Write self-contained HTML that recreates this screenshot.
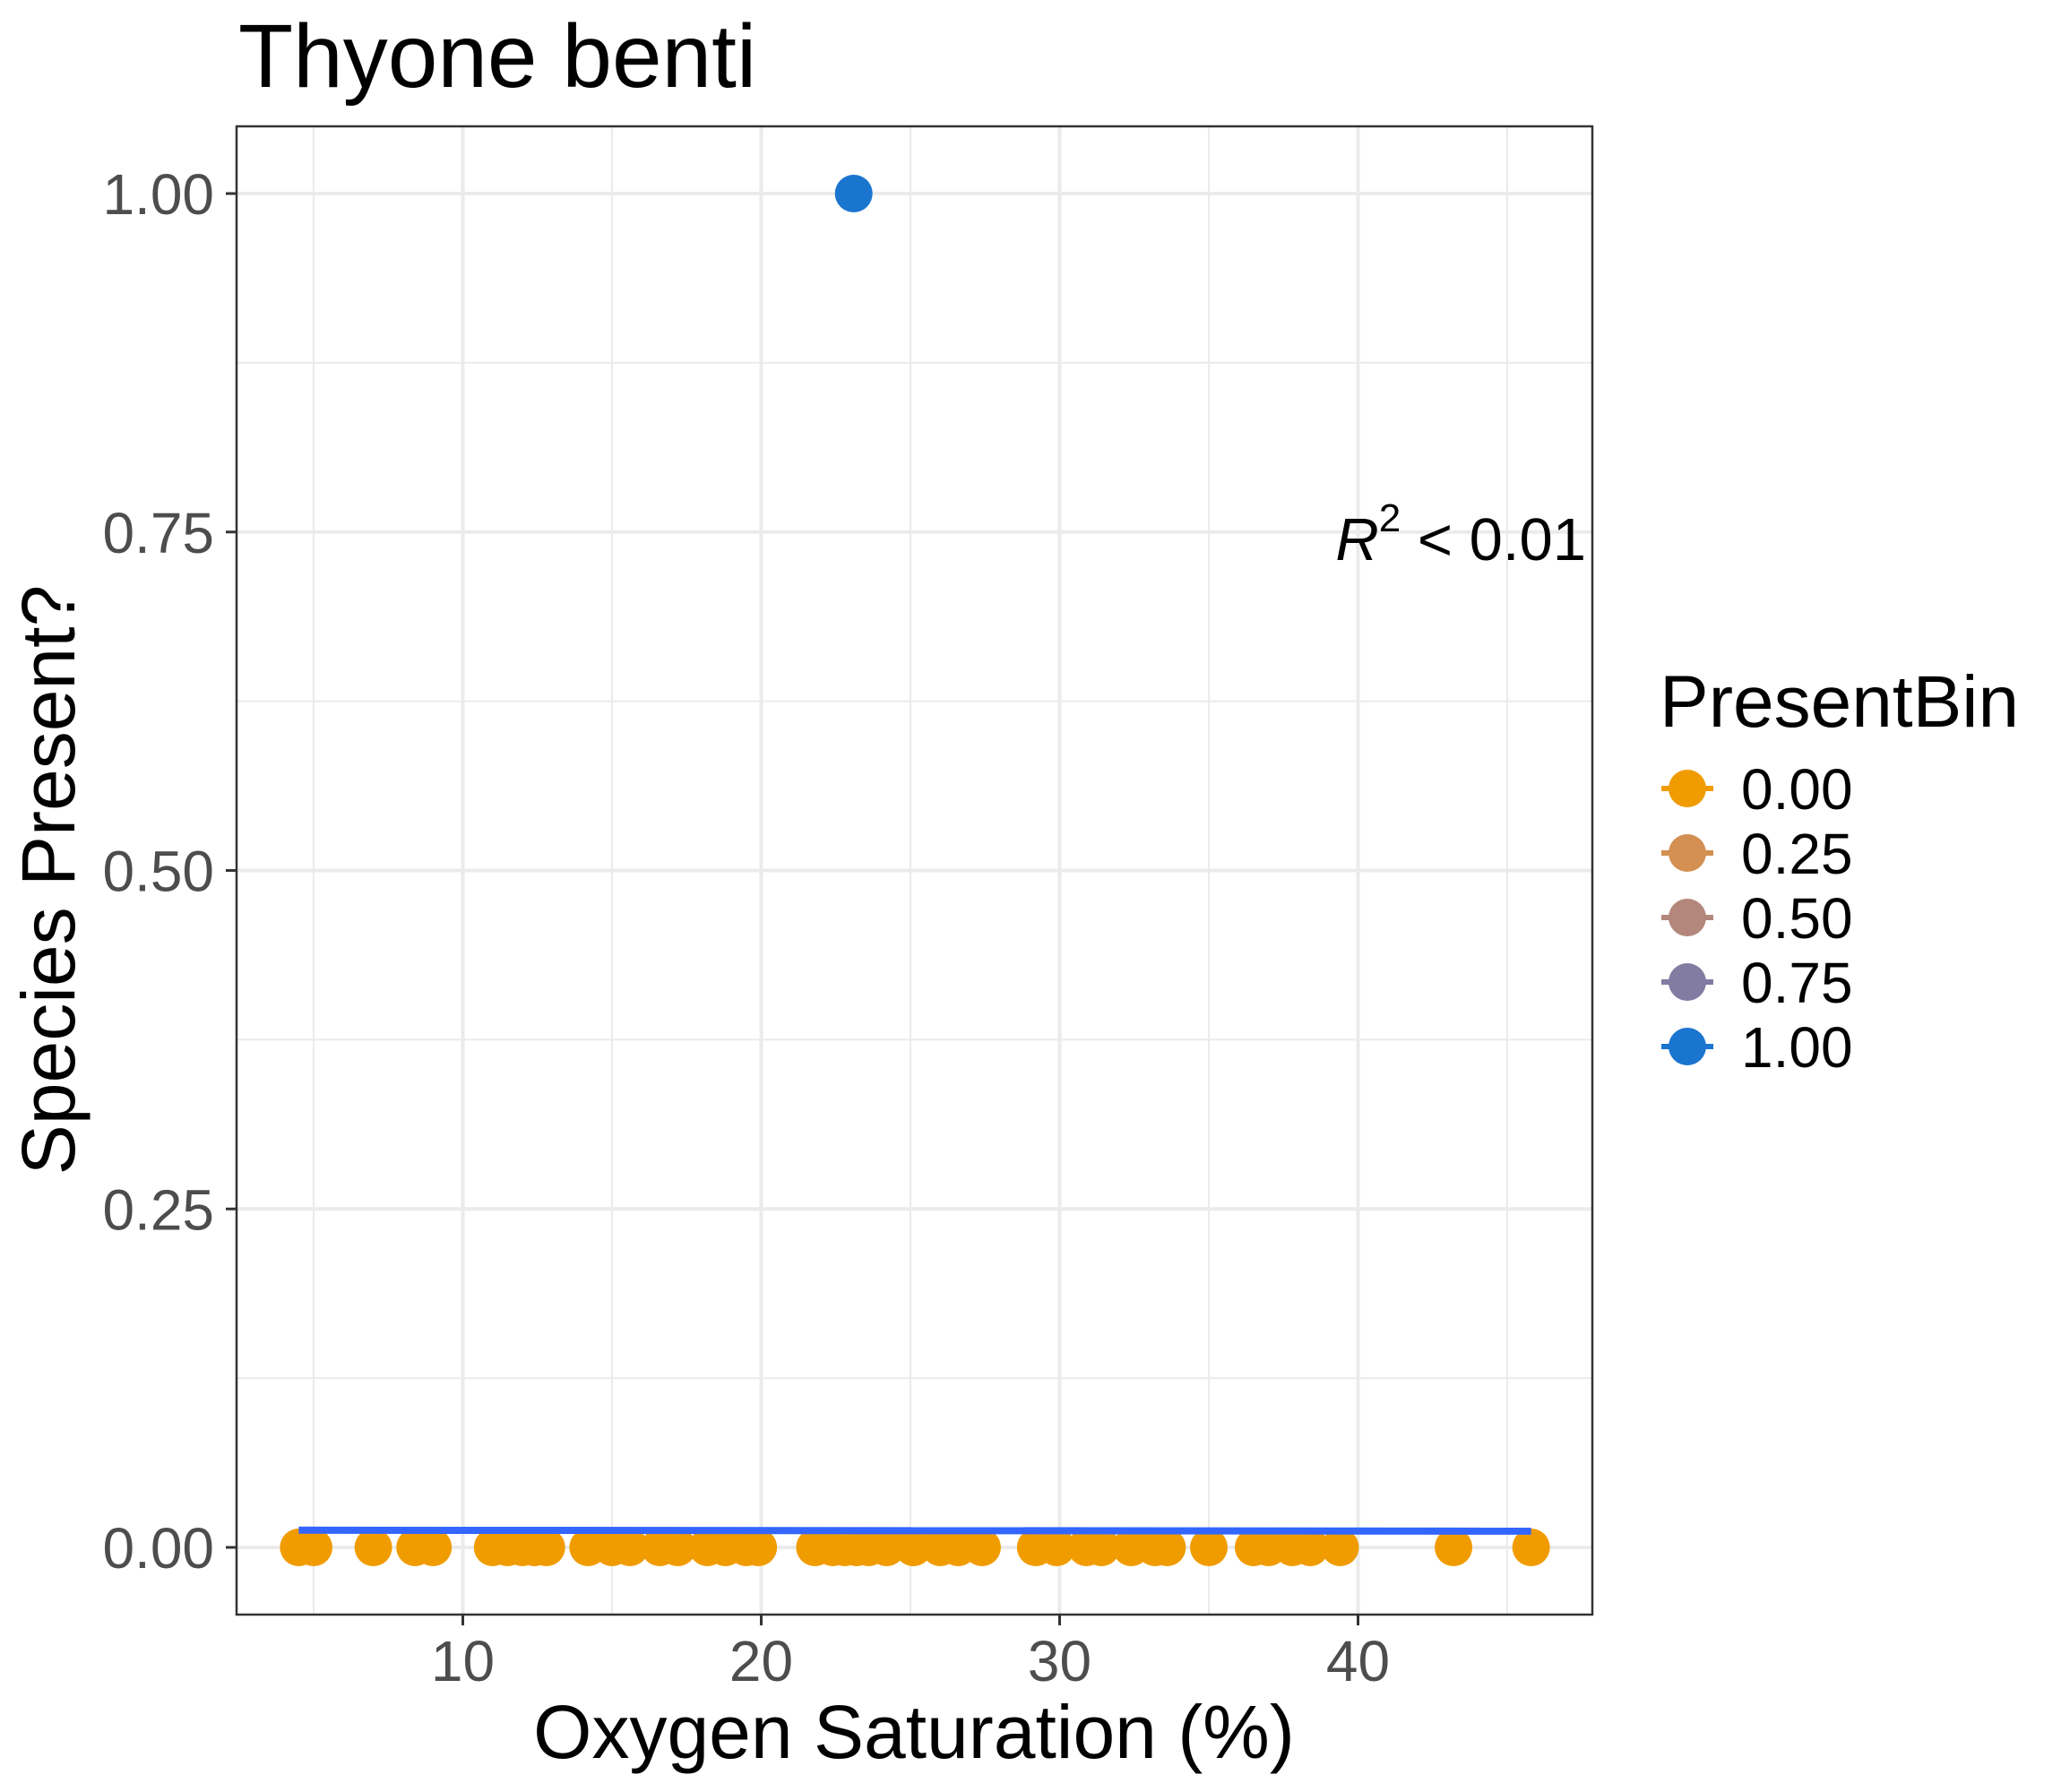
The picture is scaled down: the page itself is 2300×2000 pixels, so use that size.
<!DOCTYPE html>
<html><head><meta charset="utf-8"><style>
html,body{margin:0;padding:0;background:#fff}
svg{display:block;font-family:"Liberation Sans",Arial,sans-serif}
</style></head><body>
<svg id="chart" width="2300" height="2000" viewBox="0 0 2300 2000" xmlns="http://www.w3.org/2000/svg">
<text x="266" y="97" font-size="100" fill="#000">Thyone benti</text>
<g id="grid"></g>
<g id="marks"></g>
<rect x="264" y="141" width="1513" height="1661" fill="none" stroke="#333" stroke-width="2.5"/>
<g id="axes"></g>
<text x="1770" y="625" font-size="67" text-anchor="end" fill="#000"><tspan font-style="italic">R</tspan><tspan font-size="44" dy="-32">2</tspan><tspan dy="32"> &lt; 0.01</tspan></text>
<text x="1020" y="1962" font-size="84" text-anchor="middle" fill="#000">Oxygen Saturation (%)</text>
<text transform="translate(83,982) rotate(-90)" font-size="84" text-anchor="middle" fill="#000">Species Present?</text>
<g id="legend">
<text x="1852" y="811" font-size="82" fill="#000">PresentBin</text>
</g>
</svg>
<script>
const xTicks = [10, 20, 30, 40];
const xMinor = [5, 15, 25, 35, 45];
const yTicks = [0, 0.25, 0.5, 0.75, 1];
const yTickLabels = ["0.00", "0.25", "0.50", "0.75", "1.00"];
const yMinor = [0.125, 0.375, 0.625, 0.875];
const absentX = [4.5, 5.0, 7.0, 8.4, 9.0, 11.0, 11.5, 12.0, 12.4, 12.8, 14.2, 15.0, 15.6, 16.6, 17.2, 18.2, 18.8, 19.5, 19.9, 21.8, 22.4, 22.8, 23.2, 23.6, 24.2, 25.1, 26.0, 26.6, 27.4, 29.2, 29.9, 30.9, 31.4, 32.4, 33.2, 33.6, 35.0, 36.5, 37.0, 37.8, 38.4, 39.4, 43.2, 45.8];
const presentX = [23.1];
const fitX = [4.5, 45.8];
const fitY = [0.0127, 0.0120];
const legendLabels = ["0.00", "0.25", "0.50", "0.75", "1.00"];
const legendColors = ["#F09C00", "#D39052", "#B3877C", "#827BA2", "#1A75CF"];

const NS = "http://www.w3.org/2000/svg";
const X = v => 183.5 + v * 33.3;
const Y = v => 1727 - v * 1511;
function el(tag, attrs, parent) {
  const e = document.createElementNS(NS, tag);
  for (const k in attrs) e.setAttribute(k, attrs[k]);
  parent.appendChild(e);
  return e;
}
const grid = document.getElementById('grid');
const marks = document.getElementById('marks');
const axes = document.getElementById('axes');
const legend = document.getElementById('legend');

xMinor.forEach(v => {
  const l = el('line', {x1: X(v), x2: X(v), y1: 141, y2: 1802, stroke: '#ebebeb', 'stroke-width': 2}, grid);
  
  
});
yMinor.forEach(v => {
  const l = el('line', {x1: 264, x2: 1777, y1: Y(v), y2: Y(v), stroke: '#ebebeb', 'stroke-width': 2}, grid);
  
  
});
xTicks.forEach(v => {
  const l = el('line', {x1: X(v), x2: X(v), y1: 141, y2: 1802, stroke: '#ebebeb', 'stroke-width': 4}, grid);
  
  
  const t = el('line', {x1: X(v), x2: X(v), y1: 1802, y2: 1814, stroke: '#333', 'stroke-width': 3}, axes);
  
  
  const tx = el('text', {x: X(v), y: 1876, 'font-size': 64, 'text-anchor': 'middle', fill: '#4d4d4d'}, axes);
  tx.textContent = v;
  
  
});
yTicks.forEach((v, i) => {
  const l = el('line', {x1: 264, x2: 1777, y1: Y(v), y2: Y(v), stroke: '#ebebeb', 'stroke-width': 4}, grid);
  
  
  const t = el('line', {x1: 252, x2: 264, y1: Y(v), y2: Y(v), stroke: '#333', 'stroke-width': 3}, axes);
  
  
  const tx = el('text', {x: 239, y: Y(v) + 23, 'font-size': 64, 'text-anchor': 'end', fill: '#4d4d4d'}, axes);
  tx.textContent = yTickLabels[i];
  
  
});
absentX.forEach(v => {
  const c = el('circle', {cx: X(v), cy: Y(0), r: 21, fill: '#F09C00'}, marks);
  
  
});
presentX.forEach(v => {
  const c = el('circle', {cx: X(v), cy: Y(1), r: 21, fill: '#1A75CF'}, marks);
  
  
});
const fit = el('line', {x1: X(fitX[0]), x2: X(fitX[1]), y1: Y(fitY[0]), y2: Y(fitY[1]), stroke: '#3366FF', 'stroke-width': 8}, marks);



legendLabels.forEach((lab, i) => {
  const cy = 880 + i * 72;
  const g = el('g', {}, legend);
  
  
  el('line', {x1: 1854, x2: 1912, y1: cy, y2: cy, stroke: legendColors[i], 'stroke-width': 6}, g);
  el('circle', {cx: 1883, cy: cy, r: 21, fill: legendColors[i]}, g);
  const t = el('text', {x: 1943, y: cy + 23, 'font-size': 64, fill: '#000'}, g);
  t.textContent = lab;
});
</script>
</body></html>
